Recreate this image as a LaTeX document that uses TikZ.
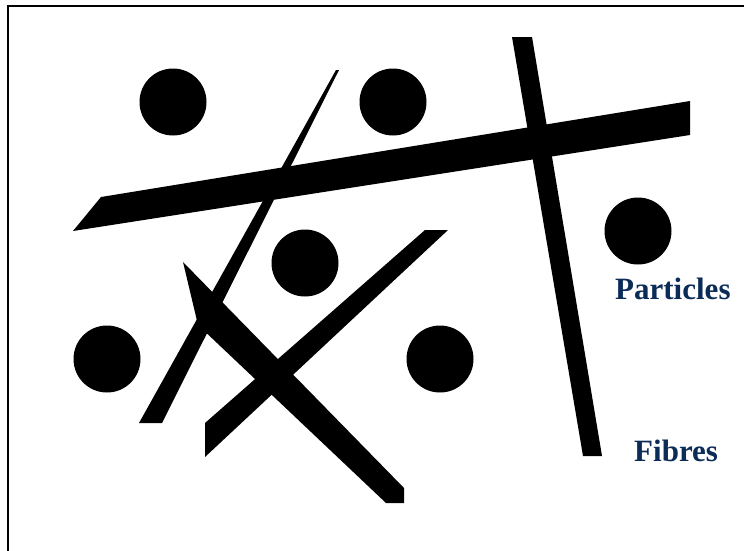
\documentclass[tikz,border=0pt]{standalone}
\usepackage{fontspec}
\setmainfont{Liberation Serif}
\definecolor{labelblue}{RGB}{12,44,88}
\begin{document}
\begin{tikzpicture}[x=1pt,y=-1pt,
  particle/.style={fill=black},
  fibre/.style={fill=black},
  frameline/.style={draw=black,line width=2pt},
  lbl/.style={text=labelblue,font=\fontsize{31}{36}\selectfont\bfseries,inner sep=0pt,anchor=base west}]
\useasboundingbox (0,0) rectangle (744,550);
\fill[white] (0,0) rectangle (744,550);
\draw[frameline] (8,551) -- (8,6) -- (745,6);
% particles
\fill[particle] (173,102) circle (33.5);
\fill[particle] (393,102) circle (33.5);
\fill[particle] (305,263) circle (33.5);
\fill[particle] (107,359) circle (33.5);
\fill[particle] (440,359) circle (33.5);
\fill[particle] (638,231) circle (33.5);
% fibres
\fill[fibre] (101,197) -- (690,101) -- (690,135) -- (73,231) -- cycle;
\fill[fibre] (512,37) -- (532,37) -- (602,456) -- (583,456) -- cycle;
\fill[fibre] (336,70) -- (339,70) -- (162,423) -- (139,423) -- cycle;
\fill[fibre] (425,230) -- (448,230) -- (205,457) -- (205,423) -- cycle;
\fill[fibre] (183,262) -- (404,488) -- (404,503) -- (386,503) -- (198,325) -- cycle;
% labels
\node[lbl] (particles) at (615,299) {Particles};
\node[lbl] (fibres) at (634,461) {Fibres};
\end{tikzpicture}
\end{document}
